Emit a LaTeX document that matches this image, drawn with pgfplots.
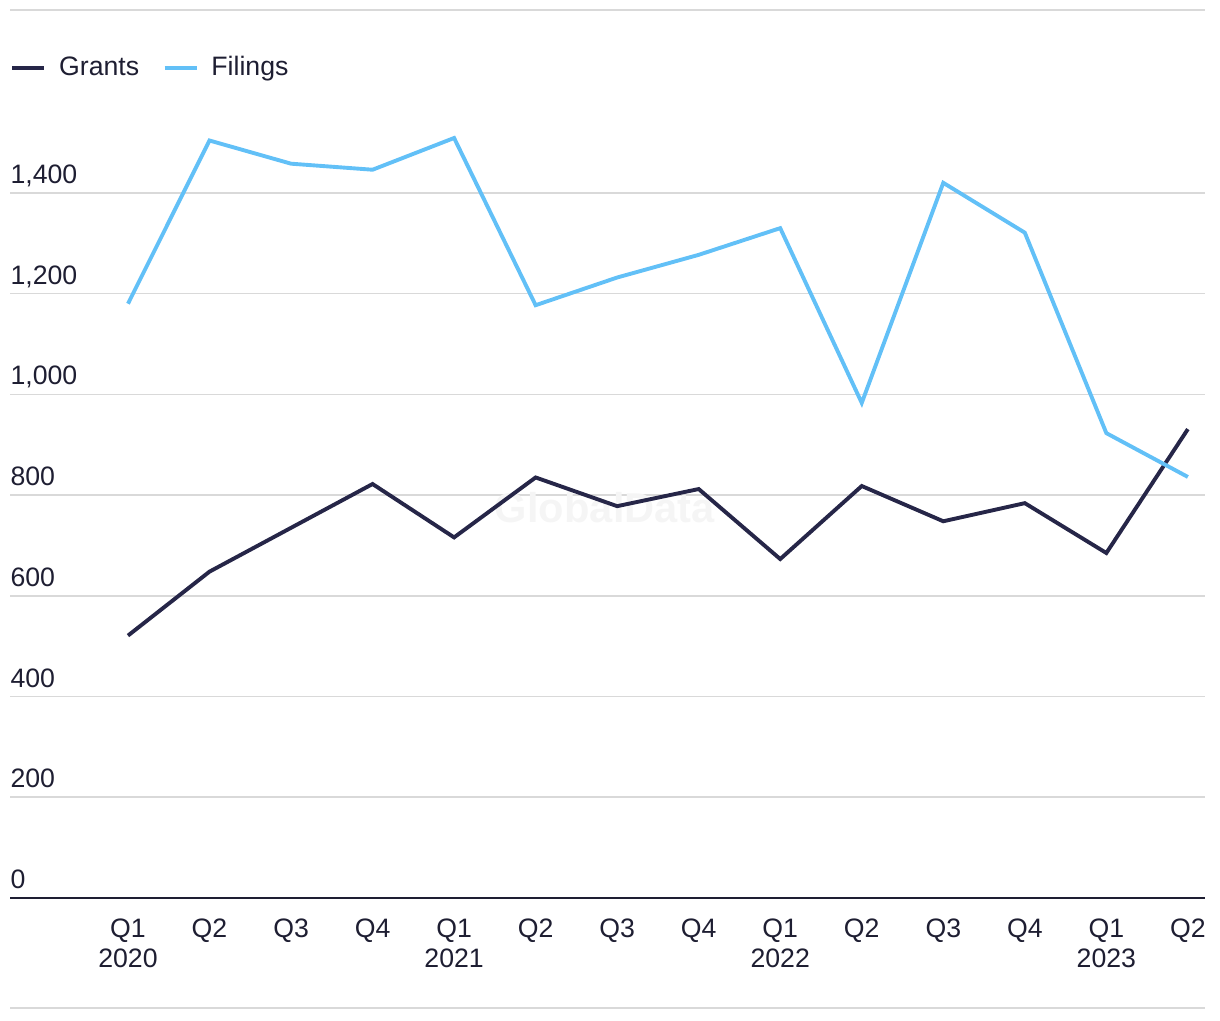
\documentclass[border=0pt]{standalone}
\usepackage{pgfplots}
\pgfplotsset{compat=1.18}
\usepackage{fontspec}
\setmainfont{Liberation Sans}

\definecolor{grants}{RGB}{38,38,72}
\definecolor{filings}{RGB}{98,192,247}
\definecolor{gridgray}{RGB}{217,217,217}
\definecolor{txt}{RGB}{30,30,50}

\begin{document}
\begin{tikzpicture}
\begin{axis}[
  scale only axis,
  width=430.2pt, height=290.1pt,
  xmin=-1.447, xmax=13.21,
  ymin=0, ymax=1600,
  clip=false,
  axis x line*=bottom,
  axis y line*=left,
  y axis line style={draw=none},
  x axis line style={draw=txt, line width=0.9pt, -},
  xtick={0,...,13},
  xticklabels={Q1\\2020,Q2,Q3,Q4,Q1\\2021,Q2,Q3,Q4,Q1\\2022,Q2,Q3,Q4,Q1\\2023,Q2},
  xticklabel style={align=center, anchor=north, yshift=-4pt,
    font=\fontsize{9.6}{10.8}\selectfont, text=txt},
  major tick length=0pt,
  ytick={0,200,...,1400},
  ymajorgrids=true,
  grid style={draw=gridgray, line width=0.6pt},
  yticklabel style={anchor=base west, inner sep=0pt, yshift=3.4pt, xshift=0pt,
    font=\fontsize{9.6}{12}\selectfont, text=txt},
  /pgf/number format/.cd, 1000 sep={,}, assume math mode=true,
  /pgfplots/.cd,
  legend columns=2,
  legend style={at={(0,1.03)}, anchor=west, draw=none, fill=none,
    font=\fontsize{9.6}{12}\selectfont, text=txt, inner sep=0pt,
    nodes={inner sep=0pt},
    /tikz/every odd column/.append style={column sep=4.6pt},
    /tikz/every even column/.append style={column sep=8.5pt}},
  legend image code/.code={\draw[#1, line width=1.4pt] (0pt,0pt) -- (11.5pt,0pt);},
  legend cell align=left,
]
\node[text=black!4, font=\fontsize{15}{15}\selectfont\bfseries] at (axis cs:5.85,775) {GlobalData};

\addplot[grants, line width=1.4pt] coordinates {
  (0,521) (1,648) (2,735) (3,822) (4,716) (5,835) (6,778)
  (7,812) (8,673) (9,818) (10,748) (11,784) (12,685) (13,931)
};
\addplot[filings, line width=1.4pt] coordinates {
  (0,1180) (1,1504) (2,1458) (3,1446) (4,1509) (5,1177) (6,1232)
  (7,1277) (8,1330) (9,983) (10,1420) (11,1321) (12,923) (13,836)
};
\legend{Grants, Filings}

\draw[gridgray, line width=0.6pt] (rel axis cs:0,1.102) -- (rel axis cs:1,1.102);
\draw[gridgray, line width=0.6pt] (rel axis cs:0,-0.1365) -- (rel axis cs:1,-0.1365);
\end{axis}
\path (current axis.south west) ++(-3.6pt,-43.92pt) rectangle ++(439.2pt,367.2pt);
\end{tikzpicture}
\end{document}
